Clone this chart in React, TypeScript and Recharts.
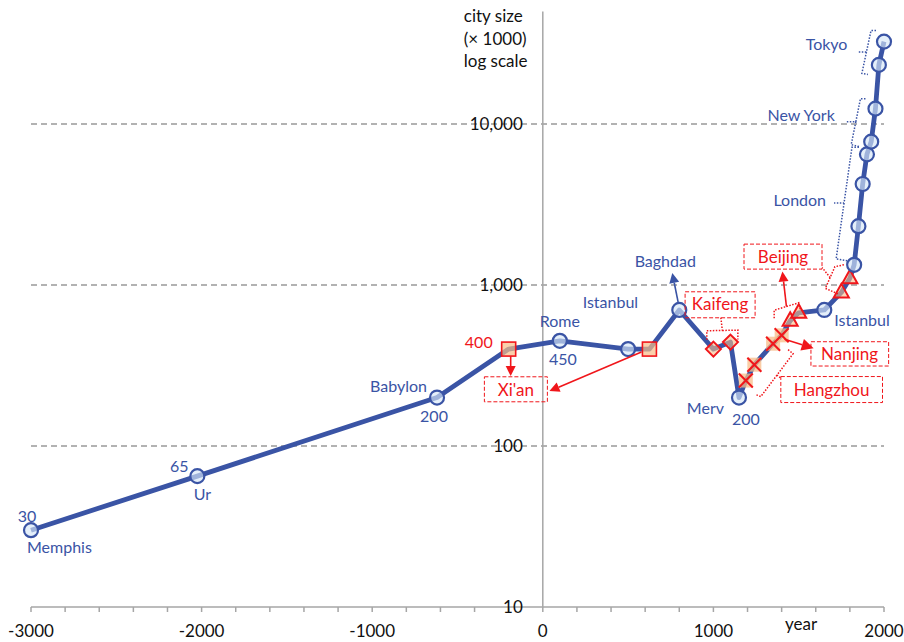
import { LineChart, Line, XAxis, YAxis, ReferenceLine, ReferenceDot } from 'recharts'

const years = [-3000, -2025, -620, -200, 100, 500, 625, 800, 1000, 1100, 1150, 1190, 1240, 1350, 1400, 1450, 1500, 1650, 1750, 1800, 1825, 1850, 1875, 1900, 1925, 1950, 1970, 2000]
const sizes = [30, 65, 200, 400, 450, 400, 400, 700, 400, 442, 200, 255, 320, 432, 487, 600, 672, 700, 900, 1100, 1335, 2320, 4241, 6480, 7774, 12463, 23300, 32500]
const cities = ['Memphis', 'Ur', 'Babylon', "Xi'an", 'Rome', 'Istanbul', "Xi'an", 'Baghdad', 'Kaifeng', 'Kaifeng', 'Merv', 'Hangzhou', 'Hangzhou', 'Hangzhou', 'Nanjing', 'Beijing', 'Beijing', 'Istanbul', 'Beijing', 'Beijing', 'London', 'London', 'London', 'London', 'New York', 'New York', 'Tokyo', 'Tokyo']

const xTicks = [-3000, -2800, -2600, -2400, -2200, -2000, -1800, -1600, -1400, -1200, -1000, -800, -600, -400, -200, 0, 200, 400, 600, 800, 1000, 1200, 1400, 1600, 1800, 2000]
const xLabels = [-3000, -2000, -1000, 0, 1000, 2000]
const yTicks = [10, 100, 1000, 10000]
const yGrid = [100, 1000, 10000]
const yTitle = ['city size', '(× 1000)', 'log scale']
const xTitle = 'year'

const data = years.map((year, i) => ({ year, size: sizes[i], city: cities[i] }))

const BLUE = '#3A54A5'
const RED = '#F0161B'
const PEACH = '#F8BC88'
const GREY = '#A6A6A6'
const FONT = 'Lato, "Open Sans", sans-serif'

// marker shape per city (chinese capitals in red)
const markerOf: Record<string, string> = {
  "Xi'an": 'square',
  Kaifeng: 'diamond',
  Hangzhou: 'cross',
  Nanjing: 'cross',
  Beijing: 'triangle',
}

type Pt = { x: number; y: number }
const at = (p: Pt, dx: number, dy: number): Pt => ({ x: p.x + dx, y: p.y + dy })

function Marker({ kind, cx, cy }: { kind: string; cx: number; cy: number }) {
  if (kind === 'square')
    return <rect x={cx - 7} y={cy - 7} width={14} height={14} fill={PEACH} fillOpacity={0.7} stroke={RED} strokeWidth={1.6} />
  if (kind === 'diamond')
    return <polygon points={`${cx},${cy - 7.5} ${cx + 7.5},${cy} ${cx},${cy + 7.5} ${cx - 7.5},${cy}`} fill={PEACH} fillOpacity={0.6} stroke={RED} strokeWidth={2} />
  if (kind === 'triangle')
    return <polygon points={`${cx},${cy - 8.5} ${cx + 7.5},${cy + 5} ${cx - 7.5},${cy + 5}`} fill={PEACH} fillOpacity={0.6} stroke={RED} strokeWidth={2} />
  if (kind === 'cross')
    return (
      <g>
        <rect x={cx - 7} y={cy - 7} width={14} height={14} fill={PEACH} fillOpacity={0.75} />
        <path d={`M${cx - 7},${cy - 7}L${cx + 7},${cy + 7}M${cx - 7},${cy + 7}L${cx + 7},${cy - 7}`} stroke={RED} strokeWidth={2} />
      </g>
    )
  return <circle cx={cx} cy={cy} r={7} fill="#D6E6F7" fillOpacity={0.65} stroke={BLUE} strokeWidth={2.2} />
}

function Txt({ p, dx, dy, text, anchor = 'middle', color = BLUE, size = 16 }: any) {
  return (
    <text x={p.x + dx} y={p.y + dy} textAnchor={anchor} fill={color} fontSize={size} fontFamily={FONT}>
      {text}
    </text>
  )
}

function Arrow({ from, to, color, head = 10 }: { from: Pt; to: Pt; color: string; head?: number }) {
  const a = Math.atan2(to.y - from.y, to.x - from.x)
  const c = Math.cos(a)
  const s = Math.sin(a)
  const bx = to.x - head * c
  const by = to.y - head * s
  const w = head * 0.5
  return (
    <g>
      <line x1={from.x} y1={from.y} x2={bx} y2={by} stroke={color} strokeWidth={1.6} />
      <polygon points={`${to.x},${to.y} ${bx - w * s},${by + w * c} ${bx + w * s},${by - w * c}`} fill={color} />
    </g>
  )
}

function Box({ p, x0, y0, x1, y1, text, tx, ty }: any) {
  return (
    <g>
      <rect x={p.x + x0} y={p.y + y0} width={x1 - x0} height={y1 - y0} fill="none" stroke={RED} strokeWidth={1} strokeDasharray="4 2" />
      <Txt p={p} dx={tx} dy={ty} text={text} color={RED} size={17} />
    </g>
  )
}

// bracket drawn next to a group of points, returns tip of its nib
function brace(a: Pt, b: Pt, legA: Pt, legB: Pt, nib: Pt) {
  const m = { x: (a.x + b.x) / 2, y: (a.y + b.y) / 2 }
  const tip = at(m, nib.x, nib.y)
  const d = `M${a.x + legA.x},${a.y + legA.y}L${a.x},${a.y}L${m.x},${m.y}L${tip.x},${tip.y}M${m.x},${m.y}L${b.x},${b.y}L${b.x + legB.x},${b.y + legB.y}`
  return { d, m, tip }
}

function Brace({ d, color }: { d: string; color: string }) {
  return <path d={d} fill="none" stroke={color} strokeWidth={1.5} strokeDasharray="1.5 1.5" />
}

function Notes({ p }: { p: Pt[] }) {
  const tokyo = brace(at(p[27], -13, -11), at(p[26], -17, 8.5), { x: 5, y: 0 }, { x: 6, y: 1 }, { x: -9, y: 0 })
  const ny = brace(at(p[25], -15, -10), at(p[24], -20, 3), { x: 5, y: 0 }, { x: 8, y: 2 }, { x: -9, y: 0 })
  const london = brace(at(p[23], -15, -7), at(p[20], -18, -6), { x: 7, y: 0 }, { x: 12, y: 2 }, { x: -10, y: 0 })
  const kaifeng = brace(at(p[8], -6.6, -18.3), at(p[9], 7.4, -12), { x: 0, y: 9 }, { x: 0, y: 9.5 }, { x: -1.5, y: -13 })
  const beijing1 = brace(at(p[15], -16, -10.5), at(p[16], 0, -10), { x: 0, y: 8 }, { x: 2, y: 8 }, { x: 0, y: 0 })
  const beijing2 = brace(at(p[19], -15, -11.6), at(p[18], -16, -4), { x: 9, y: -2 }, { x: 14, y: 6 }, { x: -8, y: -10 })
  const hangzhou = brace(at(p[13], 20, 10), at(p[11], 15, 16), { x: -5, y: -4 }, { x: -5, y: -2 }, { x: 4, y: 3 })

  return (
    <g>
      <Txt p={p[0]} dx={-4} dy={-8} text={String(sizes[0])} />
      <Txt p={p[0]} dx={-4} dy={23} text={cities[0]} anchor="start" />
      <Txt p={p[1]} dx={-18} dy={-4} text={String(sizes[1])} />
      <Txt p={p[1]} dx={5} dy={24} text={cities[1]} />
      <Txt p={p[2]} dx={-10} dy={-6} text={cities[2]} anchor="end" />
      <Txt p={p[2]} dx={-3} dy={24} text={String(sizes[2])} />
      <Txt p={p[3]} dx={-16} dy={-1} text={String(sizes[3])} anchor="end" color={RED} />
      <Txt p={p[4]} dx={0} dy={-14} text={cities[4]} />
      <Txt p={p[4]} dx={3} dy={24} text={String(sizes[4])} />
      <Txt p={p[5]} dx={10} dy={-41} text={cities[5]} anchor="end" />
      <Txt p={p[7]} dx={-14} dy={-43} text={cities[7]} />
      <Arrow from={at(p[7], -1, -7)} to={at(p[7], -7, -37)} color={BLUE} head={10} />
      <Txt p={p[10]} dx={-15} dy={16} text={cities[10]} anchor="end" />
      <Txt p={p[10]} dx={7} dy={27} text={String(sizes[10])} />
      <Txt p={p[17]} dx={10} dy={16} text={cities[17]} anchor="start" />

      <Brace d={tokyo.d} color={BLUE} />
      <Txt p={tokyo.tip} dx={-10} dy={-2} text={cities[27]} anchor="end" />
      <Brace d={ny.d} color={BLUE} />
      <Txt p={ny.tip} dx={-12} dy={-1} text={cities[25]} anchor="end" />
      <Brace d={london.d} color={BLUE} />
      <Txt p={london.tip} dx={-8} dy={3} text={cities[23]} anchor="end" />

      <Box p={p[3]} x0={-24.3} y0={27.7} x1={38.7} y1={52.7} text={cities[3]} tx={7.2} ty={46.7} />
      <Arrow from={at(p[3], 2, 7)} to={at(p[3], 2, 27)} color={RED} />
      <Arrow from={at(p[6], -8, 3)} to={at(p[6], -100, 42)} color={RED} />

      <Brace d={kaifeng.d} color={RED} />
      <Box p={p[8]} x0={-28.3} y0={-57.3} x1={41.7} y1={-31.3} text={cities[8]} tx={6.7} ty={-39} />

      <Brace d={beijing1.d} color={RED} />
      <Arrow from={beijing1.m} to={at(beijing1.m, -4, -35)} color={RED} />
      <Brace d={beijing2.d} color={RED} />
      <Box p={p[16]} x0={-54.7} y0={-68.7} x1={23.3} y1={-43.7} text={cities[16]} tx={-15.7} ty={-49.7} />

      <Arrow from={at(p[14], 3, 4)} to={at(p[14], 32, 13)} color={RED} head={12} />
      <Box p={p[14]} x0={29.3} y0={6.4} x1={107} y1={30.7} text={cities[14]} tx={68} ty={25} />

      <Brace d={hangzhou.d} color={RED} />
      <Box p={p[11]} x0={35} y0={-4} x1={136.7} y1={22} text={cities[11]} tx={85.8} ty={15.5} />
    </g>
  )
}

let seen: Pt[] = []
function renderDot(props: any) {
  const { cx, cy, index, payload, points } = props
  if (index === 0) seen = []
  seen[index] = { x: cx, y: cy }
  const kind = markerOf[payload.city] ?? 'circle'
  const mark = <Marker kind={kind} cx={cx} cy={cy} />
  if (index !== data.length - 1) return <g key={`dot-${index}`}>{mark}</g>
  const p: Pt[] = Array.isArray(points) && points.length === data.length ? points.map((q: any) => ({ x: q.x, y: q.y })) : seen
  return (
    <g key={`dot-${index}`}>
      {mark}
      <Notes p={p} />
    </g>
  )
}

export default function App() {
  return (
    <div style={{ position: 'absolute', left: 0, top: 0, background: '#fff' }}>
      <LineChart width={904} height={642} data={data} margin={{ top: 11.5, right: 20, bottom: 5, left: 31 }}>
        <XAxis
          dataKey="year"
          type="number"
          domain={[-3000, 2000]}
          ticks={xTicks}
          interval={0}
          tickFormatter={(v: number) => (xLabels.includes(v) ? String(v) : '')}
          tickSize={5}
          tickMargin={13}
          height={30}
          axisLine={{ stroke: GREY, strokeWidth: 1.5 }}
          tickLine={{ stroke: GREY, strokeWidth: 1.5 }}
          tick={{ fill: '#111', fontSize: 17, fontFamily: FONT }}
        />
        <YAxis hide type="number" scale="log" domain={[10, 50000]} allowDataOverflow />
        {yGrid.map((v) => (
          <ReferenceLine key={v} y={v} stroke="#999" strokeWidth={1.5} strokeDasharray="6 4" />
        ))}
        <ReferenceLine x={0} stroke={GREY} strokeWidth={1.5} />
        {yTicks.map((v) => (
          <ReferenceDot
            key={`yt-${v}`}
            x={0}
            y={v}
            r={0}
            ifOverflow="visible"
            shape={(s: any) => (
              <text x={s.cx - 20} y={s.cy + 6} textAnchor="end" fill="#111" fontSize={17} fontFamily={FONT}>
                {v.toLocaleString('en-US')}
              </text>
            )}
          />
        ))}
        <ReferenceDot
          x={0}
          y={50000}
          r={0}
          ifOverflow="visible"
          shape={(s: any) => (
            <g>
              {yTitle.map((t, i) => (
                <text key={t} x={s.cx - 79} y={s.cy + 10.5 + i * 22.5} fill="#111" fontSize={17} fontFamily={FONT}>
                  {t}
                </text>
              ))}
            </g>
          )}
        />
        <ReferenceDot
          x={2000}
          y={10}
          r={0}
          ifOverflow="visible"
          shape={(s: any) => (
            <text x={s.cx - 99} y={s.cy + 23} fill="#111" fontSize={17} fontFamily={FONT}>
              {xTitle}
            </text>
          )}
        />
        <Line
          dataKey="size"
          stroke={BLUE}
          strokeWidth={4.8}
          strokeLinejoin="round"
          dot={renderDot}
          activeDot={false}
          isAnimationActive={false}
        />
      </LineChart>
    </div>
  )
}
